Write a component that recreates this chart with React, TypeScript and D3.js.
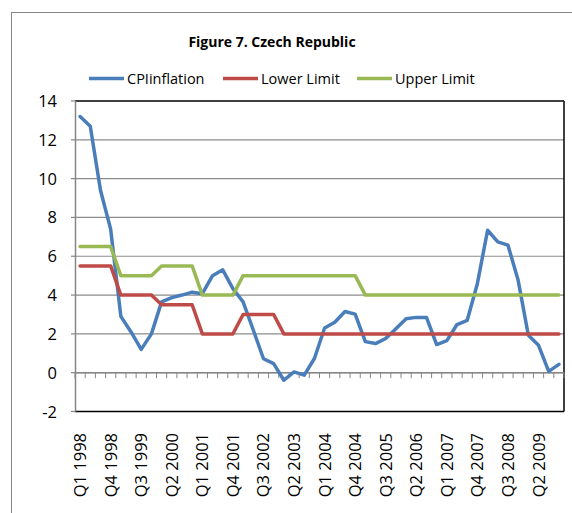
import React from "react";
import * as d3 from "d3";

const categories = [
  "Q1 1998","Q2 1998","Q3 1998","Q4 1998",
  "Q1 1999","Q2 1999","Q3 1999","Q4 1999",
  "Q1 2000","Q2 2000","Q3 2000","Q4 2000",
  "Q1 2001","Q2 2001","Q3 2001","Q4 2001",
  "Q1 2002","Q2 2002","Q3 2002","Q4 2002",
  "Q1 2003","Q2 2003","Q3 2003","Q4 2003",
  "Q1 2004","Q2 2004","Q3 2004","Q4 2004",
  "Q1 2005","Q2 2005","Q3 2005","Q4 2005",
  "Q1 2006","Q2 2006","Q3 2006","Q4 2006",
  "Q1 2007","Q2 2007","Q3 2007","Q4 2007",
  "Q1 2008","Q2 2008","Q3 2008","Q4 2008",
  "Q1 2009","Q2 2009","Q3 2009","Q4 2009",
];

const tickLabels = [
  "Q1 1998","Q4 1998","Q3 1999","Q2 2000","Q1 2001","Q4 2001","Q3 2002","Q2 2003",
  "Q1 2004","Q4 2004","Q3 2005","Q2 2006","Q1 2007","Q4 2007","Q3 2008","Q2 2009",
];

const cpiInflation = [
  13.2, 12.7, 9.4, 7.4, 2.9, 2.1, 1.2, 2.0, 3.65, 3.87, 4.0, 4.15,
  4.07, 5.0, 5.3, 4.33, 3.65, 2.2, 0.72, 0.47, -0.39, 0.04, -0.13, 0.73,
  2.3, 2.6, 3.15, 3.02, 1.6, 1.5, 1.76, 2.27, 2.78, 2.85, 2.85, 1.45,
  1.65, 2.48, 2.7, 4.6, 7.34, 6.74, 6.57, 4.76, 1.93, 1.41, 0.07, 0.43,
];

const lowerLimit = [
  5.5, 5.5, 5.5, 5.5, 4, 4, 4, 4, 3.5, 3.5, 3.5, 3.5,
  2, 2, 2, 2, 3, 3, 3, 3, 2, 2, 2, 2,
  2, 2, 2, 2, 2, 2, 2, 2, 2, 2, 2, 2,
  2, 2, 2, 2, 2, 2, 2, 2, 2, 2, 2, 2,
];

const upperLimit = [
  6.5, 6.5, 6.5, 6.5, 5, 5, 5, 5, 5.5, 5.5, 5.5, 5.5,
  4, 4, 4, 4, 5, 5, 5, 5, 5, 5, 5, 5,
  5, 5, 5, 5, 4, 4, 4, 4, 4, 4, 4, 4,
  4, 4, 4, 4, 4, 4, 4, 4, 4, 4, 4, 4,
];

const yTicks = [-2, 0, 2, 4, 6, 8, 10, 12, 14];

const series = [
  { name: "CPIinflation", values: cpiInflation, color: "#4A7EBB" },
  { name: "Lower Limit", values: lowerLimit, color: "#BE4B48" },
  { name: "Upper Limit", values: upperLimit, color: "#98B954" },
];

export default function App() {
  const W = 572, H = 513;
  const x = d3.scaleBand<string>().domain(categories).range([75, 564]);
  const y = d3.scaleLinear().domain([-2, 14]).range([411.5, 101]);
  const cx = (c: string) => (x(c) as number) + x.bandwidth() / 2;
  const font = "'Open Sans', sans-serif";

  const line = d3
    .line<number>()
    .x((_, i) => cx(categories[i]))
    .y((d) => y(d));

  const legendX = [89, 223, 357];

  return (
    <div style={{ position: "absolute", left: 0, top: 0 }}>
      <svg width={W} height={H} style={{ display: "block", background: "#fff" }}>
        <rect x={11.5} y={12.5} width={600} height={560} fill="#fff" stroke="#868686" strokeWidth={1} />
        <text x={272} y={47} textAnchor="middle" fontFamily={font} fontWeight="bold" fontSize={14}>
          Figure 7. Czech Republic
        </text>
        {series.map((s, i) => (
          <g key={s.name}>
            <line x1={legendX[i]} x2={legendX[i] + 35} y1={78.5} y2={78.5} stroke={s.color} strokeWidth={3.5} />
            <text x={legendX[i] + 38} y={84} fontFamily={font} fontSize={14.5} fill="#000">
              {s.name}
            </text>
          </g>
        ))}
        {/* gridlines */}
        {yTicks.filter((t) => t > -2 && t < 14).map((t) => (
          <line key={t} x1={75} x2={564} y1={y(t)} y2={y(t)} stroke="#8c8c8c" strokeWidth={1.2} />
        ))}
        {/* plot border */}
        <line x1={75} x2={564} y1={y(14)} y2={y(14)} stroke="#000" strokeWidth={1.5} />
        <line x1={75} x2={564} y1={y(-2)} y2={y(-2)} stroke="#000" strokeWidth={1.5} />
        <line x1={564} x2={564} y1={y(14)} y2={y(-2)} stroke="#000" strokeWidth={1.5} />
        {/* y axis */}
        <line x1={75.5} x2={75.5} y1={y(14)} y2={y(-2)} stroke="#868686" strokeWidth={1.5} />
        {yTicks.map((t) => (
          <g key={t}>
            <line x1={71} x2={75.5} y1={y(t)} y2={y(t)} stroke="#868686" strokeWidth={1.2} />
            <text x={57} y={y(t) + 6} textAnchor="end" fontFamily={font} fontSize={16.5} fill="#000">
              {t}
            </text>
          </g>
        ))}
        {/* category axis at 0 */}
        <line x1={75} x2={564} y1={y(0)} y2={y(0)} stroke="#868686" strokeWidth={1.5} />
        {categories.map((c, i) => (
          <line key={c} x1={(x(c) as number)} x2={(x(c) as number)} y1={y(0)} y2={y(0) + 5.5} stroke="#868686" strokeWidth={1} />
        ))}
        <line x1={564} x2={564} y1={y(0)} y2={y(0) + 5.5} stroke="#868686" strokeWidth={1} />
        {tickLabels.map((c) => (
          <text
            key={c}
            transform={`translate(${cx(c) + 6},433) rotate(-90)`}
            textAnchor="end"
            fontFamily={font}
            fontSize={16.5}
            fill="#000"
          >
            {c}
          </text>
        ))}
        {/* series */}
        {series.map((s) => (
          <path
            key={s.name}
            d={line(s.values) as string}
            fill="none"
            stroke={s.color}
            strokeWidth={3.5}
            strokeLinejoin="round"
            strokeLinecap="round"
          />
        ))}
      </svg>
    </div>
  );
}
